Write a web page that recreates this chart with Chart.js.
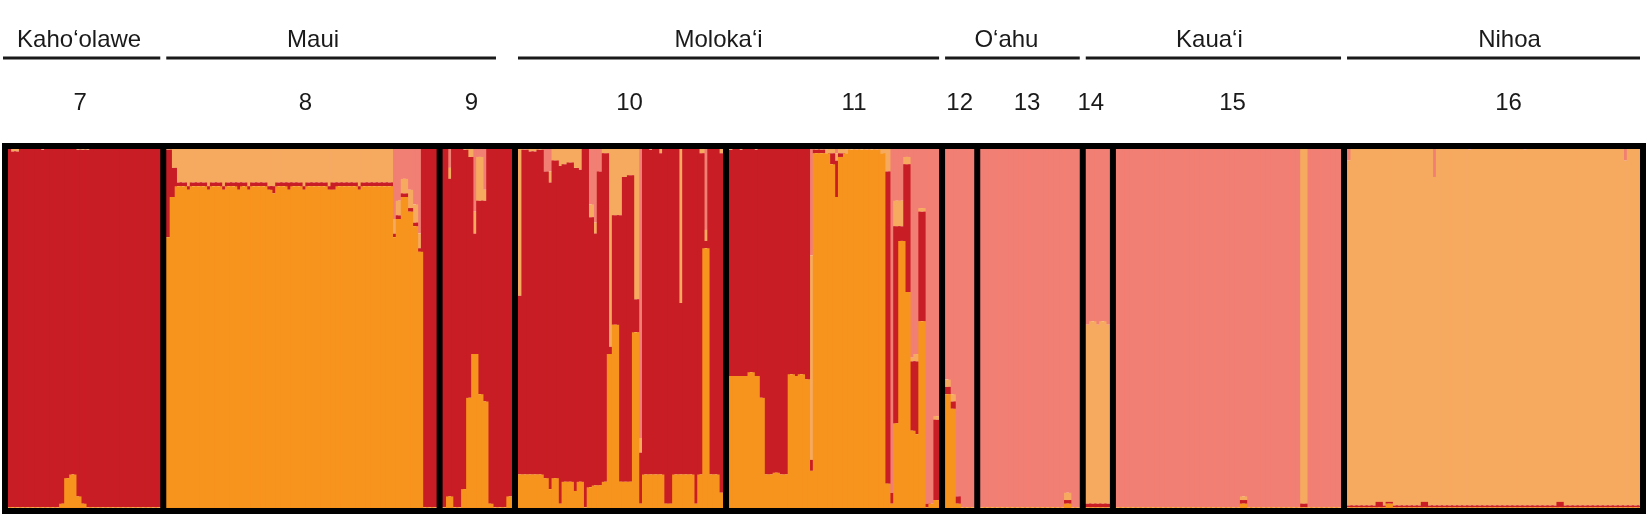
<!DOCTYPE html>
<html>
<head>
<meta charset="utf-8">
<script src="https://cdn.jsdelivr.net/npm/chart.js@4.4.0/dist/chart.umd.min.js"></script>
<style>
  html, body { margin: 0; padding: 0; background: #fff; }
  #wrap { width: 1651px; height: 518px; position: relative; }
</style>
</head>
<body>
<div id="wrap"><canvas id="structurePlot"></canvas></div>
<script>
// Populations (left to right) and how many individuals each holds
const popLabels = ['7', '8', '9', '10', '11', '12', '13', '14', '15', '16'];
const popSizes = [31, 54, 14, 41, 42, 6, 20, 5, 45, 59];

// Islands and the populations (first, last index) under each one
const islandNames = ['Kaho‘olawe', 'Maui', 'Moloka‘i', 'O‘ahu', 'Kaua‘i', 'Nihoa'];
const islandPops = [[0, 0], [1, 2], [3, 4], [5, 6], [7, 8], [9, 9]];

const clusterNames = ['Cluster 1', 'Cluster 2', 'Cluster 3', 'Cluster 4'];

// membership proportions, one value per individual (stack order: bottom -> top)
const qOrange = [
  // 7
  0.01,0.01,0.01,0.01,0.01,0.01,0.01,0.01,0.01,0.01,0.01,0.02,0.09,0.10,0.04,0.02,0.01,0.01,0.01,0.01,0.01,0.01,0.01,0.01,0.01,0.01,0.01,0.01,0.01,0.01,0.01,
  // 8
  0.75,0.86,
  0.89,0.89,0.88,0.89,0.89,0.89,0.88,0.89,0.89,0.88,
  0.89,0.89,0.88,0.89,0.88,0.89,0.89,0.89,0.88,0.87,
  0.89,0.89,0.88,0.89,0.89,0.88,0.89,0.89,0.89,0.89,
  0.88,0.88,0.89,0.89,0.89,0.89,0.88,0.89,0.89,0.89,
  0.89,0.89,0.89,
  0.75,0.80,0.86,0.82,0.78,0.71,
  0.01,0.01,0.01,
  // 9
  0.01,0.04,0.01,0.01,0.06,0.31,0.43,0.32,0.30,0.02,0.01,0.01,0.01,0.04,
  // 10
  0.10,0.10,0.10,0.10,0.10,0.09,0.06,0.09,0.02,0.08,
  0.08,0.055,0.08,0.01,0.065,0.07,0.07,0.08,0.43,0.51,
  0.08,0.08,0.08,0.49,0.02,0.10,0.10,0.10,0.10,0.02,
  0.02,0.10,0.10,0.10,0.10,0.02,0.10,0.72,0.10,0.10,
  0.05,
  // 11
  0.37,0.37,0.37,0.37,0.38,0.37,0.31,0.10,0.10,0.105,
  0.10,0.10,0.375,0.37,0.375,0.36,0.11,0.98,0.98,0.98,
  0.95,0.86,0.97,0.98,0.99,0.99,0.99,0.99,0.99,0.99,
  0.98,0.075,0.02,0.24,0.74,0.60,0.22,0.21,0.52,0.01,
  0.02,0.03,
  // 12
  0.32,0.28,0.02,0.01,0.01,0.01,
  // 13
  0.01,0.01,0.01,0.01,0.01,0.01,0.01,0.01,0.01,0.01,
  0.01,0.01,0.01,0.01,0.01,0.01,0.01,0.02,0.01,0.01,
  // 14
  0.01,0.01,0.01,0.01,0.01,
  // 15
  0.01,0.01,0.01,0.01,0.01,0.01,0.01,0.01,0.01,0.01,
  0.01,0.01,0.01,0.01,0.01,0.01,0.01,0.01,0.01,0.01,
  0.01,0.01,0.01,0.01,0.01,0.02,0.01,0.01,0.01,0.01,
  0.01,0.01,0.01,0.01,0.01,0.01,0.01,0.01,0.01,0.01,
  0.01,0.01,0.01,0.01,0.01,
  // 16
  0.01,0.01,0.01,0.01,0.01,0.01,0.01,0.01,0.02,0.01,
  0.01,0.01,0.01,0.01,0.01,0.01,0.01,0.01,0.01,0.01,
  0.01,0.01,0.01,0.01,0.01,0.01,0.01,0.01,0.01,0.01,
  0.01,0.01,0.01,0.01,0.01,0.01,0.01,0.01,0.01,0.01,
  0.01,0.01,0.01,0.01,0.01,0.01,0.01,0.01,0.01,0.01,
  0.01,0.01,0.01,0.01,0.01,0.01,0.01,0.01,0.01
];

const qRed = [
  // 7
  0.99,0.975,0.975,0.99,0.99,0.99,0.99,0.98,0.99,0.99,0.99,0.98,0.91,0.90,0.95,0.97,0.98,0.99,0.99,0.99,0.99,0.99,0.99,0.99,0.99,0.99,0.99,0.99,0.99,0.99,0.99,
  // 8
  0.24,0.08,
  0.01,0.01,0.01,0.01,0.01,0.01,0.01,0.01,0.01,0.01,
  0.01,0.01,0.02,0.01,0.01,0.01,0.01,0.01,0.01,0.02,
  0.01,0.01,0.02,0.01,0.01,0.01,0.01,0.01,0.01,0.01,
  0.01,0.02,0.01,0.01,0.01,0.01,0.01,0.01,0.01,0.01,
  0.01,0.01,0.01,
  0.01,0.01,0.01,0.01,0.01,0.01,
  0.99,0.99,0.99,
  // 9
  0.99,0.87,0.99,0.99,0.93,0.66,0.33,0.53,0.55,0.98,0.99,0.99,0.99,0.96,
  // 10
  0.49,0.89,0.885,0.885,0.89,0.84,0.84,0.87,0.925,0.87,
  0.875,0.885,0.855,0.99,0.74,0.69,0.86,0.90,0.02,0.30,
  0.73,0.835,0.84,0.09,0.14,0.90,0.89,0.90,0.88,0.98,
  0.98,0.90,0.47,0.90,0.90,0.98,0.88,0.02,0.90,0.90,
  0.93,
  // 11
  0.62,0.63,0.62,0.63,0.62,0.62,0.69,0.90,0.90,0.895,
  0.90,0.90,0.625,0.63,0.625,0.64,0.03,0.01,0.01,0.00,
  0.03,0.10,0.01,0.00,0.00,0.00,0.00,0.00,0.00,0.00,
  0.00,0.855,0.03,0.54,0.04,0.35,0.19,0.20,0.30,0.01,
  0.00,0.22,
  // 12
  0.02,0.02,0.02,0.00,0.00,0.00,
  // 13
  0,0,0,0,0,0,0,0,0,0,
  0,0,0,0,0,0,0,0.01,0,0,
  // 14
  0.01,0.01,0.01,0.01,0.01,
  // 15
  0,0,0,0,0,0,0,0,0,0,
  0,0,0,0,0,0,0,0,0,0,
  0,0,0,0,0,0.01,0,0,0,0,
  0,0,0,0,0,0,0,0.01,0,0,
  0,0,0,0,0,
  // 16
  0.005,0.005,0.005,0.005,0.005,0.005,0.015,0.005,0.005,0.005,
  0.005,0.005,0.005,0.005,0.005,0.015,0.005,0.005,0.005,0.005,
  0.005,0.005,0.005,0.005,0.005,0.005,0.005,0.005,0.005,0.005,
  0.005,0.005,0.005,0.005,0.005,0.005,0.005,0.005,0.005,0.005,
  0.005,0.005,0.015,0.005,0.005,0.005,0.005,0.005,0.005,0.005,
  0.005,0.005,0.005,0.005,0.005,0.005,0.005,0.005,0.005
];

const qLight = [
  // 7
  0,0.015,0.015,0,0,0,0,0.01,0,0,0,0,0,0,0.01,0.01,0.01,0,0,0,0,0,0,0,0,0,0,0,0,0,0,
  // 8
  0.01,0.06,
  0.10,0.10,0.11,0.10,0.10,0.10,0.11,0.10,0.10,0.11,
  0.10,0.10,0.10,0.10,0.11,0.10,0.10,0.10,0.11,0.11,
  0.10,0.10,0.10,0.10,0.10,0.11,0.10,0.10,0.10,0.10,
  0.11,0.10,0.10,0.10,0.10,0.10,0.11,0.10,0.10,0.10,
  0.10,0.10,0.10,
  0.04,0.04,0.04,0.05,0.05,0.04,
  0,0,0,
  // 9
  0,0.03,0,0,0.01,0.03,0.06,0.12,0.03,0,0,0,0,0,
  // 10
  0.41,0,0.015,0.015,0.01,0,0.03,0.04,0.055,0.05,
  0.045,0.06,0.065,0,0.035,0.03,0,0.02,0.55,0.19,
  0.19,0.085,0.08,0.42,0.04,0,0.01,0,0.02,0,
  0,0,0.43,0,0,0,0.02,0.03,0,0,
  0.02,
  // 11
  0.01,0,0.01,0,0,0.01,0,0,0,0,
  0,0,0,0,0,0,0.56,0.01,0.01,0.01,
  0.02,0.02,0.02,0.01,0.01,0,0.01,0,0.01,0,
  0.02,0.07,0,0.07,0.07,0.02,0.01,0.02,0.01,0,
  0,0.01,
  // 12
  0.02,0.02,0,0,0,0,
  // 13
  0,0,0,0,0,0,0,0,0,0,
  0,0,0,0,0,0,0,0.02,0,0,
  // 14
  0.49,0.50,0.49,0.50,0.49,
  // 15
  0,0,0,0,0,0,0,0,0,0,
  0,0,0,0,0,0,0,0,0,0,
  0,0,0,0,0,0.01,0,0,0,0,
  0,0,0,0,0,0,0,0.98,0,0,
  0,0,0,0,0,
  // 16
  0.945,0.985,0.985,0.985,0.985,0.985,0.975,0.985,0.975,0.985,
  0.985,0.985,0.985,0.985,0.985,0.975,0.985,0.90,0.985,0.985,
  0.985,0.985,0.985,0.985,0.975,0.985,0.985,0.985,0.985,0.985,
  0.985,0.985,0.985,0.985,0.985,0.975,0.985,0.985,0.985,0.985,
  0.985,0.985,0.975,0.985,0.985,0.985,0.985,0.985,0.985,0.985,
  0.985,0.985,0.985,0.985,0.985,0.945,0.985,0.985,0.985
];

const qSalmon = [
  // 7
  0,0,0,0,0,0,0,0,0,0,0,0,0,0,0,0,0,0,0,0,0,0,0,0,0,0,0,0,0,0,0,
  // 8
  0,0,
  0,0,0,0,0,0,0,0,0,0,
  0,0,0,0,0,0,0,0,0,0,
  0,0,0,0,0,0,0,0,0,0,
  0,0,0,0,0,0,0,0,0,0,
  0,0,0,
  0.20,0.15,0.09,0.12,0.16,0.24,
  0,0,0,
  // 9
  0,0.06,0,0,0,0,0.18,0.03,0.12,0,0,0,0,0,
  // 10
  0,0.01,0,0,0,0.07,0.07,0,0,0,
  0,0,0,0,0.16,0.21,0.07,0,0,0,
  0,0,0,0,0.80,0,0,0,0,0,
  0,0,0,0,0,0,0,0.23,0,0,
  0,
  // 11
  0,0,0,0,0,0,0,0,0,0,
  0,0,0,0,0,0,0.30,0,0,0.01,
  0,0.02,0,0.01,0,0.01,0,0.01,0,0.01,
  0,0,0.95,0.15,0.15,0.03,0.58,0.57,0.17,0.98,
  0.98,0.74,
  // 12
  0.64,0.68,0.96,0.99,0.99,0.99,
  // 13
  0.99,0.99,0.99,0.99,0.99,0.99,0.99,0.99,0.99,0.99,
  0.99,0.99,0.99,0.99,0.99,0.99,0.99,0.95,0.99,0.99,
  // 14
  0.49,0.48,0.49,0.48,0.49,
  // 15
  0.99,0.99,0.99,0.99,0.99,0.99,0.99,0.99,0.99,0.99,
  0.99,0.99,0.99,0.99,0.99,0.99,0.99,0.99,0.99,0.99,
  0.99,0.99,0.99,0.99,0.99,0.96,0.99,0.99,0.99,0.99,
  0.99,0.99,0.99,0.99,0.99,0.99,0.99,0,0.99,0.99,
  0.99,0.99,0.99,0.99,0.99,
  // 16
  0.04,0,0,0,0,0,0,0,0,0,
  0,0,0,0,0,0,0,0.085,0,0,
  0,0,0,0,0.01,0,0,0,0,0,
  0,0,0,0,0,0.01,0,0,0,0,
  0,0,0,0,0,0,0,0,0,0,
  0,0,0,0,0,0.04,0,0,0
];

const clusterColors = ['#F7941D', '#C91D25', '#F6AA60', '#F27F73'];

// small horizontal nudges (px) for the header, to sit like the original figure
const popLabelShift = [-4, 4, -6, 9, 20, 0, -3, -7, 4, 15];
const islandLabelShift = [-5, -26, -10, -6, -4, 16];
const islandLineTrim = [[-5, 0], [0, -16], [0, 0], [0, 0], [0, 0], [0, 0]];

// Build category axis: individuals, with one empty slot between populations
const labels = [];
const popStart = [];
const gapSlots = [];
function withGaps(values) {
  const out = [];
  let k = 0;
  popSizes.forEach((n, p) => {
    for (let i = 0; i < n; i++) out.push(values[k++]);
    if (p < popSizes.length - 1) out.push(null);
  });
  return out;
}
popSizes.forEach((n, p) => {
  popStart.push(labels.length);
  for (let i = 0; i < n; i++) labels.push(popLabels[p] + '-' + (i + 1));
  if (p < popSizes.length - 1) {
    gapSlots.push(labels.length);
    labels.push('');
  }
});

const series = [qOrange, qRed, qLight, qSalmon];

const FONT = '"Liberation Sans", Arial, Helvetica, sans-serif';

const structurePlugin = {
  id: 'structureDecor',
  afterDatasetsDraw(chart) {
    const ctx = chart.ctx;
    const xs = chart.scales.x;
    const area = chart.chartArea;
    ctx.save();
    ctx.fillStyle = '#000';
    // separators between populations
    gapSlots.forEach(g => {
      const gx = xs.getPixelForValue(g);
      ctx.fillRect(gx - 3, area.top, 6, area.bottom - area.top);
    });
    // outer frame
    ctx.lineWidth = 6;
    ctx.strokeStyle = '#000';
    ctx.strokeRect(area.left, area.top, area.right - area.left, area.bottom - area.top);

    // population boundaries (separator centres)
    const leftOf = p => (p === 0 ? area.left : xs.getPixelForValue(popStart[p] - 1));
    const rightOf = p => (p === popSizes.length - 1 ? area.right : xs.getPixelForValue(popStart[p] + popSizes[p]));

    ctx.fillStyle = '#1a1a1a';
    ctx.textAlign = 'center';
    ctx.textBaseline = 'alphabetic';
    ctx.font = '24px ' + FONT;
    popLabels.forEach((lab, p) => {
      ctx.fillText(lab, (leftOf(p) + rightOf(p)) / 2 + popLabelShift[p], 110);
    });

    ctx.lineWidth = 3;
    ctx.strokeStyle = '#1a1a1a';
    islandNames.forEach((name, i) => {
      const x0 = leftOf(islandPops[i][0]) + 3 + islandLineTrim[i][0];
      const x1 = rightOf(islandPops[i][1]) - 3 + islandLineTrim[i][1];
      ctx.beginPath();
      ctx.moveTo(x0, 58);
      ctx.lineTo(x1, 58);
      ctx.stroke();
      ctx.fillText(name, (leftOf(islandPops[i][0]) + rightOf(islandPops[i][1])) / 2 + islandLabelShift[i], 47);
    });
    ctx.restore();
  }
};

new Chart(document.getElementById('structurePlot'), {
  type: 'bar',
  data: {
    labels: labels,
    datasets: series.map((vals, i) => ({
      label: clusterNames[i],
      data: withGaps(vals),
      backgroundColor: clusterColors[i],
      borderWidth: 0,
      inflateAmount: 0,
      barPercentage: 1.45,
      categoryPercentage: 1
    }))
  },
  options: {
    responsive: true,
    maintainAspectRatio: false,
    animation: false,
    devicePixelRatio: 1,
    layout: { padding: { left: 5, right: 8, top: 146, bottom: 7 } },
    plugins: { legend: { display: false }, tooltip: { enabled: false } },
    scales: {
      x: { stacked: true, display: false },
      y: { stacked: true, display: false, min: 0, max: 1 }
    }
  },
  plugins: [structurePlugin]
});
</script>
</body>
</html>
